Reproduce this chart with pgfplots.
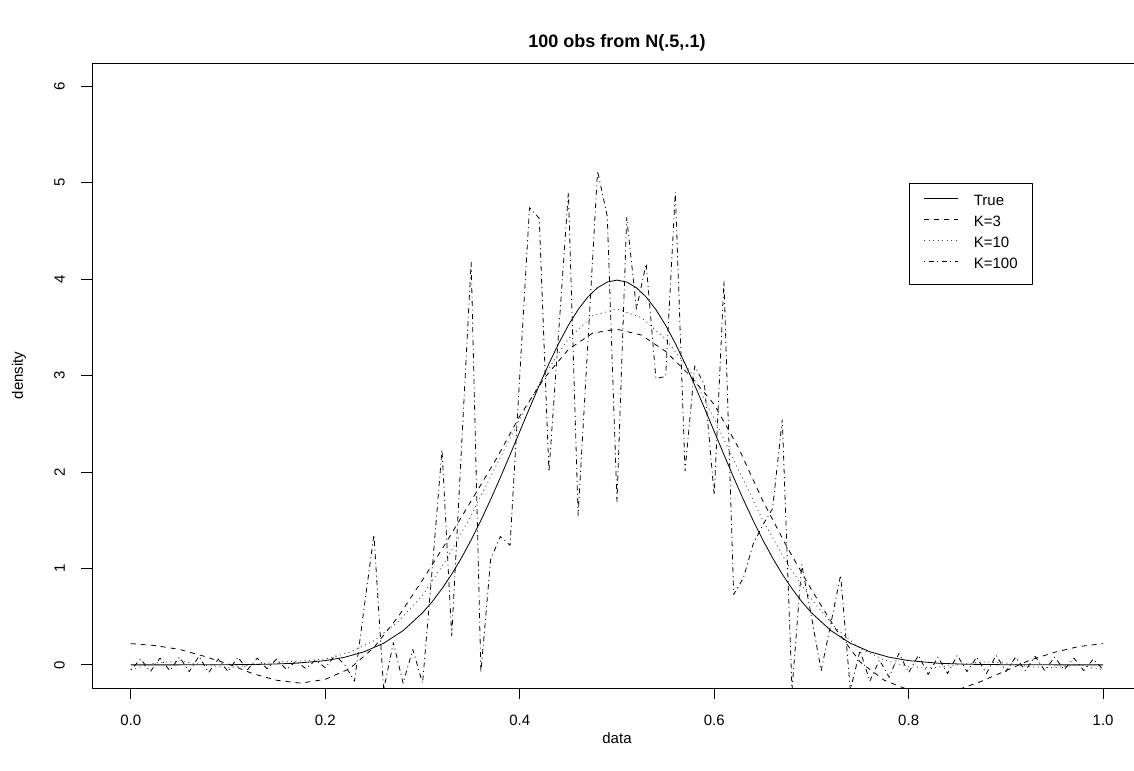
\documentclass[border=0pt]{standalone}
\usepackage{fontspec}
\setmainfont{Liberation Sans}
\usepackage{pgfplots}
\pgfplotsset{compat=1.18}
\begin{document}
\begin{tikzpicture}
\begin{axis}[
  at={(92bp,83bp)}, anchor=south west,
  width=1050bp, height=625bp, scale only axis,
  xmin=-0.04, xmax=1.04, ymin=-0.24, ymax=6.24,
  xtick={0,0.2,0.4,0.6,0.8,1}, xticklabels={0.0,0.2,0.4,0.6,0.8,1.0},
  ytick={0,1,2,3,4,5,6},
  tick align=outside, xtick pos=left, ytick pos=left,
  major tick length=11bp,
  tick style={black, line width=0.8bp},
  axis line style={line width=0.8bp},
  /pgf/number format/assume math mode=true,
  every tick label/.append style={font=\fontsize{15bp}{18bp}\selectfont},
  xticklabel style={anchor=north, inner sep=0pt, yshift=-16bp},
  yticklabel style={xshift=-16bp, rotate=90, anchor=south, inner sep=0pt},
  every axis x label/.style={at={(axis description cs:0.5,0)}, anchor=center, yshift=-50bp, font=\fontsize{15bp}{18bp}\selectfont},
  every axis y label/.style={at={(axis description cs:0,0.5)}, xshift=-73bp, rotate=90, anchor=center, font=\fontsize{15bp}{18bp}\selectfont},
  every axis title/.style={at={(axis description cs:0.5,1)}, anchor=center, yshift=20bp, font=\bfseries\fontsize{18bp}{21bp}\selectfont},
  title={100 obs from N(.5,.1)},
  xlabel={data}, ylabel={density},
  legend style={at={(axis cs:0.8,5)}, anchor=north west, draw=black, line width=0.8bp,
    inner xsep=15bp, inner ysep=12bp, row sep=7bp, column sep=15bp,
    font=\fontsize{15bp}{18bp}\selectfont,
    nodes={inner sep=0pt, text height=11bp, text depth=3bp}},
  legend cell align=left,
  legend image code/.code={\draw[#1] (0bp,4bp) -- (34bp,4bp);},
  line join=round,
]
% True density
\addplot[black, line width=0.8bp] coordinates {
(0.00,0.0000)(0.05,0.0000)(0.10,0.0013)(0.14,0.0060)(0.17,0.0170)(0.20,0.044)(0.22,0.079)(0.24,0.136)(0.26,0.224)(0.28,0.355)
(0.30,0.540)(0.31,0.656)(0.32,0.790)(0.33,0.940)(0.34,1.109)(0.35,1.295)(0.36,1.497)(0.37,1.714)(0.38,1.942)(0.39,2.179)
(0.40,2.420)(0.41,2.661)(0.42,2.897)(0.43,3.123)(0.44,3.332)(0.45,3.521)(0.46,3.683)(0.47,3.814)(0.48,3.910)(0.49,3.969)
(0.50,3.989)(0.51,3.969)(0.52,3.910)(0.53,3.814)(0.54,3.683)(0.55,3.521)(0.56,3.332)(0.57,3.123)(0.58,2.897)(0.59,2.661)
(0.60,2.420)(0.61,2.179)(0.62,1.942)(0.63,1.714)(0.64,1.497)(0.65,1.295)(0.66,1.109)(0.67,0.940)(0.68,0.790)(0.69,0.656)
(0.70,0.540)(0.72,0.355)(0.74,0.224)(0.76,0.136)(0.78,0.079)(0.80,0.044)(0.83,0.017)(0.86,0.006)(0.90,0.0013)(0.95,0.0000)(1.00,0.0000)
};
\addlegendentry{True}
% K=3
\addplot[black, line width=0.8bp, dash pattern=on 5bp off 5bp] coordinates {
(0.000,0.22)(0.025,0.20)(0.050,0.16)(0.075,0.09)(0.100,0.01)(0.125,-0.09)(0.150,-0.16)(0.175,-0.19)(0.200,-0.15)(0.225,-0.04)
(0.250,0.18)(0.275,0.50)(0.300,0.88)(0.325,1.28)(0.350,1.70)(0.375,2.12)(0.400,2.58)(0.425,2.97)(0.450,3.27)(0.475,3.44)
(0.500,3.48)(0.525,3.42)(0.550,3.25)(0.575,3.00)(0.600,2.70)(0.625,2.25)(0.650,1.70)(0.675,1.22)(0.700,0.78)(0.725,0.37)
(0.750,0.03)(0.775,-0.16)(0.800,-0.26)(0.825,-0.29)(0.850,-0.26)(0.875,-0.17)(0.900,-0.06)(0.925,0.05)(0.950,0.13)(0.975,0.19)(1.000,0.22)
};
\addlegendentry{K=3}
% K=10
\addplot[black!75, line width=0.8bp, dash pattern=on 1bp off 3.5bp] coordinates {
(0.000,-0.05)(0.025,0.02)(0.050,0.04)(0.075,0.00)(0.100,-0.03)(0.125,0.00)(0.150,0.03)(0.175,0.04)(0.200,0.06)(0.225,0.13)
(0.250,0.25)(0.275,0.45)(0.300,0.72)(0.325,1.10)(0.350,1.55)(0.375,2.05)(0.400,2.55)(0.425,3.00)(0.450,3.38)(0.475,3.62)
(0.500,3.69)(0.525,3.60)(0.550,3.38)(0.575,3.05)(0.600,2.55)(0.625,2.02)(0.650,1.50)(0.675,1.05)(0.700,0.68)(0.725,0.38)
(0.750,0.17)(0.775,0.05)(0.800,-0.02)(0.825,-0.03)(0.850,0.00)(0.875,0.03)(0.900,0.02)(0.925,-0.02)(0.950,-0.03)(0.975,0.00)(1.000,-0.05)
};
\addlegendentry{K=10}
% K=100
\addplot[black, line width=0.8bp, dash pattern=on 1bp off 3.5bp on 5bp off 3.5bp] coordinates {
(0.00,-0.05)(0.01,0.06)(0.02,-0.07)(0.03,0.07)(0.04,-0.06)(0.05,0.08)(0.06,-0.07)(0.07,0.09)(0.08,-0.08)(0.09,0.06)
(0.10,-0.07)(0.11,0.08)(0.12,-0.05)(0.13,0.07)(0.14,-0.04)(0.15,0.06)(0.16,-0.05)(0.17,0.04)(0.18,-0.04)(0.19,0.05)
(0.20,-0.03)(0.21,0.10)(0.22,0.00)(0.23,-0.17)(0.24,0.60)(0.25,1.35)(0.26,-0.26)(0.27,0.23)(0.28,-0.19)(0.29,0.16)
(0.30,-0.19)(0.31,1.00)(0.32,2.23)(0.33,0.30)(0.34,2.24)(0.35,4.18)(0.36,-0.08)(0.37,1.09)(0.38,1.33)(0.39,1.24)
(0.40,3.00)(0.41,4.74)(0.42,4.63)(0.43,2.00)(0.44,3.45)(0.45,4.90)(0.46,1.55)(0.47,3.33)(0.48,5.12)(0.49,4.65)
(0.50,1.69)(0.51,4.64)(0.52,3.69)(0.53,4.16)(0.54,2.97)(0.55,2.99)(0.56,4.90)(0.57,2.01)(0.58,3.10)(0.59,2.90)
(0.60,1.76)(0.61,3.98)(0.62,0.73)(0.63,0.90)(0.64,1.25)(0.65,1.45)(0.66,1.62)(0.67,2.54)(0.68,-0.26)(0.69,1.04)
(0.70,0.50)(0.71,-0.06)(0.72,0.43)(0.73,0.93)(0.74,-0.26)(0.75,0.15)(0.76,-0.17)(0.77,0.05)(0.78,-0.13)(0.79,0.12)
(0.80,-0.08)(0.81,0.10)(0.82,-0.10)(0.83,0.08)(0.84,-0.09)(0.85,0.10)(0.86,-0.07)(0.87,0.08)(0.88,-0.09)(0.89,0.10)
(0.90,-0.07)(0.91,0.08)(0.92,-0.06)(0.93,0.09)(0.94,-0.06)(0.95,0.08)(0.96,-0.05)(0.97,0.07)(0.98,-0.06)(0.99,0.06)(1.00,-0.05)
};
\addlegendentry{K=100}
\end{axis}
\pgfresetboundingbox
\path[use as bounding box] (0,0) rectangle (1134bp,771bp);
\end{tikzpicture}
\end{document}
